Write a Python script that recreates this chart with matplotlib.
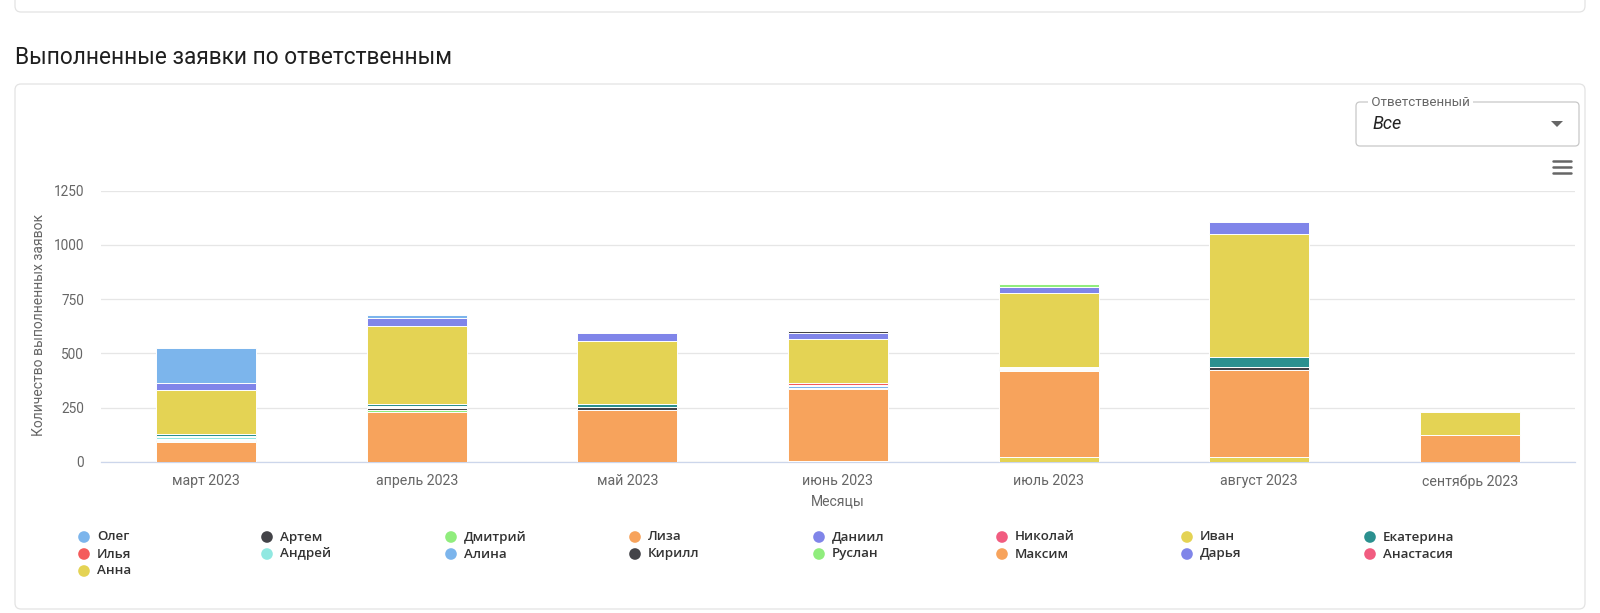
import numpy as np
import matplotlib.pyplot as plt
from matplotlib.patches import FancyBboxPatch, Polygon

W, H = 1600, 613

months = ['март 2023', 'апрель 2023', 'май 2023', 'июнь 2023',
          'июль 2023', 'август 2023', 'сентябрь 2023']

# one list per person, values per month (mar..sep)
oleg = [162, 12, 0, 0, 0, 0, 0]
artem = [0, 0, 0, 11, 0, 0, 0]
dmitriy = [0, 0, 0, 0, 12, 0, 0]
liza = [0, 0, 0, 0, 0, 0, 0]
daniil = [31, 39, 37, 27, 27, 53, 0]
nikolay = [0, 0, 0, 0, 0, 0, 0]
ivan = [205, 358, 288, 203, 342, 567, 109]
ekaterina = [8, 9, 13, 0, 0, 48, 0]
ilya = [8, 0, 0, 12, 0, 0, 0]
andrey = [5, 5, 0, 5, 5, 0, 0]
alina = [5, 5, 0, 5, 5, 0, 0]
kirill = [5, 12, 15, 5, 5, 11, 0]
ruslan = [5, 6, 0, 0, 5, 0, 0]
maksim = [92, 231, 239, 332, 398, 402, 122]
darya = [0, 0, 0, 0, 0, 0, 0]
anastasia = [0, 0, 0, 0, 0, 0, 0]
anna = [0, 0, 0, 5, 20, 23, 0]

# series order as in the legend (row by row); the first one ends up on top
names = ['Олег', 'Артем', 'Дмитрий', 'Лиза', 'Даниил', 'Николай', 'Иван', 'Екатерина',
         'Илья', 'Андрей', 'Алина', 'Кирилл', 'Руслан', 'Максим', 'Дарья', 'Анастасия', 'Анна']
series = [oleg, artem, dmitriy, liza, daniil, nikolay, ivan, ekaterina,
          ilya, andrey, alina, kirill, ruslan, maksim, darya, anastasia, anna]
palette = ['#7cb5ec', '#434348', '#90ed7d', '#f7a35c', '#8085e9',
           '#f15c80', '#e4d354', '#2b908f', '#f45b5b', '#91e8e1']
colors = [palette[i % len(palette)] for i in range(len(names))]

fig = plt.figure(figsize=(W / 100, H / 100), dpi=100)

# background layer in pixel coordinates for the page elements
bg = fig.add_axes([0, 0, 1, 1], zorder=0)
bg.set_xlim(0, W)
bg.set_ylim(H, 0)
bg.axis('off')

card_kw = dict(boxstyle='round,pad=0,rounding_size=6', facecolor='white',
               edgecolor='#e3e3e3', linewidth=0.9)
bg.add_patch(FancyBboxPatch((15, -30), 1570, 42, **card_kw))
bg.add_patch(FancyBboxPatch((15, 84), 1570, 525, **card_kw))

bg.text(15, 58, 'Выполненные заявки по ответственным', fontsize=16.3,
        family='Roboto', color='#1f1f1f', va='center', ha='left')

# dropdown "Ответственный"
bg.add_patch(FancyBboxPatch((1356, 102), 223, 44,
                            boxstyle='round,pad=0,rounding_size=4',
                            facecolor='white', edgecolor='#c8c8c8', linewidth=0.9))
bg.text(1368, 102, ' Ответственный ', fontsize=9.6, family='Roboto', color='#666666',
        va='center', ha='left', bbox=dict(facecolor='white', edgecolor='none', pad=0))
bg.text(1372, 124, 'Все', fontsize=13, family='Roboto', style='italic',
        color='#222222', va='center', ha='left')
bg.add_patch(Polygon([[1551, 121], [1563, 121], [1557, 127]], closed=True,
                     facecolor='#666666', edgecolor='none'))

# hamburger menu
for yy in (161, 167, 173):
    bg.plot([1553, 1571], [yy, yy], color='#666666', lw=1.8, solid_capstyle='round')

bg.text(39, 325, 'Количество выполненных заявок', rotation=90, fontsize=10,
        family='Roboto', color='#666666', va='center', ha='center')
bg.text(838, 501, 'Месяцы', fontsize=10, family='Roboto', color='#666666',
        va='center', ha='center')

# legend, 8 items per row like highcharts
col_x = [84, 267, 451, 635, 819, 1002, 1187, 1370]
row_y = [537, 554, 571]
for i, (name, c) in enumerate(zip(names, colors)):
    lx, ly = col_x[i % 8], row_y[i // 8]
    bg.scatter(lx, ly, s=70, color=c, edgecolor='none')
    bg.text(lx + 13, ly, name, fontsize=9.6, family='Open Sans', fontweight='semibold',
            color='#333333', va='center', ha='left')

# main chart
ax = fig.add_axes([101 / W, (H - 461.7) / H, (1575 - 101) / W, 271 / H], zorder=1)
ax.patch.set_alpha(0)

x = np.arange(len(months))
bottom = np.zeros(len(months))
for name, vals, c in reversed(list(zip(names, series, colors))):
    vals = np.array(vals, dtype=float)
    mask = vals > 0
    if mask.any():
        ax.bar(x[mask], vals[mask], bottom=bottom[mask], width=0.475, color=c,
               edgecolor='white', linewidth=0.7, zorder=3)
    bottom += vals

ax.set_xlim(-0.5, len(months) - 0.5)
ax.set_ylim(0, 1250)
ax.set_yticks(np.arange(0, 1251, 250))
ax.set_xticks(x)
ax.set_xticklabels(months)
ax.yaxis.grid(True, color='#e6e6e6', linewidth=0.9, zorder=0)
ax.set_axisbelow(True)
for side in ('top', 'right', 'left'):
    ax.spines[side].set_visible(False)
ax.spines['bottom'].set_color('#ccd6eb')
ax.spines['bottom'].set_linewidth(0.9)
ax.tick_params(axis='y', length=0, pad=12, labelsize=9.8, labelcolor='#666666')
ax.tick_params(axis='x', length=0, pad=9, labelsize=10.2, labelcolor='#666666')
for lab in ax.get_xticklabels() + ax.get_yticklabels():
    lab.set_family('Roboto')

fig.savefig('out.png', dpi=100)
